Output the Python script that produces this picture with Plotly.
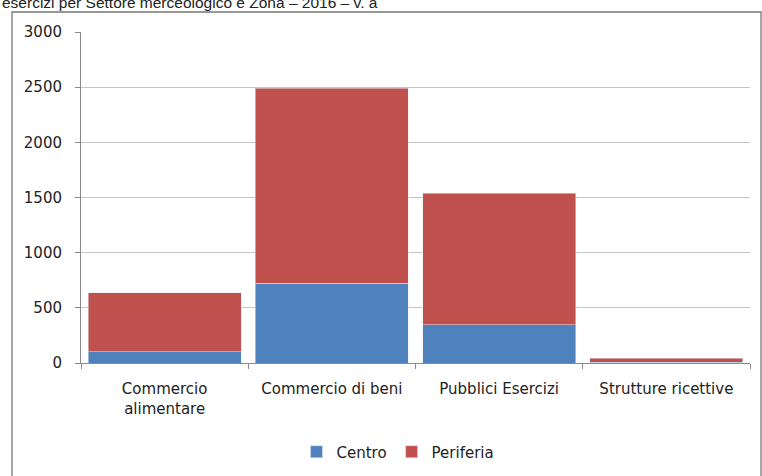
import plotly.graph_objects as go

categories = ["Commercio<br>alimentare", "Commercio di beni", "Pubblici Esercizi", "Strutture ricettive"]
centro = [100, 725, 345, 5]
periferia = [535, 1765, 1195, 40]
y_ticks = [0, 500, 1000, 1500, 2000, 2500, 3000]

W, H = 762, 476
L, R, T, B = 81, 12, 32, 113
pw, ph = W - L - R, H - T - B

def px(x):
    return (x - L) / pw

def py(y):
    return (H - B - y) / ph

fig = go.Figure()
fig.add_trace(go.Bar(x=categories, y=centro, name="Centro", marker_color="#4F81BD"))
fig.add_trace(go.Bar(x=categories, y=periferia, name="Periferia", marker_color="#C0504D"))

fig.update_layout(
    width=W, height=H,
    barmode="stack", bargap=0.085,
    paper_bgcolor="white", plot_bgcolor="white",
    margin=dict(l=L, r=R, t=T, b=B, pad=0, autoexpand=False),
    font=dict(family="DejaVu Sans, sans-serif", size=15, color="#222"),
    showlegend=True,
    legend=dict(orientation="h", x=px(398), xanchor="center", y=py(452), yanchor="middle",
                font=dict(size=15), itemwidth=30, traceorder="normal"),
    xaxis=dict(showline=True, linecolor="#8a8a8a", ticks="outside", tickson="boundaries",
               ticklen=5, tickcolor="#8a8a8a", showgrid=False, tickfont=dict(size=15),
               automargin=False, ticklabelstandoff=12),
    yaxis=dict(range=[0, 3000], tickvals=y_ticks, showline=True, linecolor="#8a8a8a",
               ticks="outside", ticklen=5, tickcolor="#8a8a8a", gridcolor="#c4c4c4",
               gridwidth=1, zeroline=False, tickfont=dict(size=15), ticklabelstandoff=10,
               automargin=False),
    shapes=[dict(type="rect", xref="paper", yref="paper", x0=px(12), x1=px(761),
                 y0=py(480), y1=py(12), line=dict(color="#777", width=1.3), layer="below")],
    annotations=[dict(text="esercizi per Settore merceologico e Zona – 2016 – v. a",
                      xref="paper", yref="paper", x=px(0), y=py(13), xanchor="left",
                      yanchor="bottom", showarrow=False,
                      font=dict(family="Liberation Sans, Arial", size=15.5, color="#222"))],
)

fig.write_html("out.html", config={"displayModeBar": False},
               post_script="document.body.style.margin='0';")
